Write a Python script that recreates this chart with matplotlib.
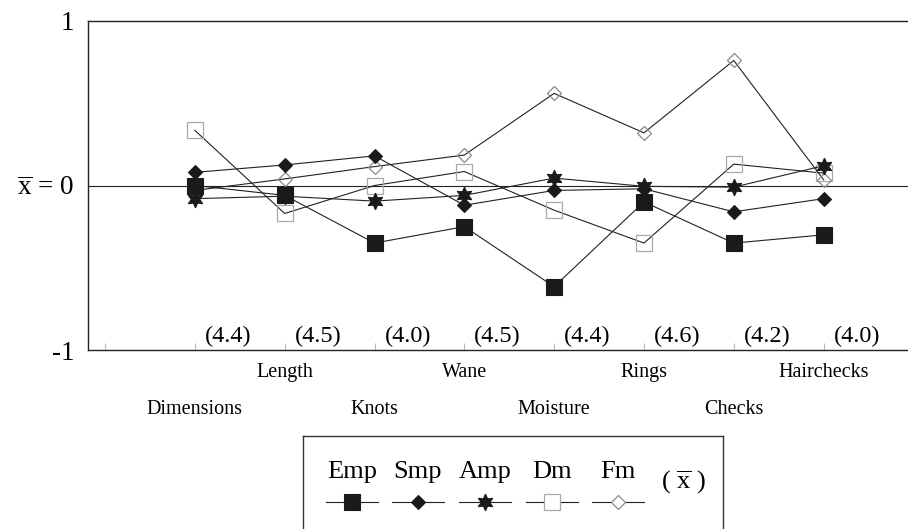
import numpy as np
import matplotlib
matplotlib.use("Agg")
import matplotlib.pyplot as plt

plt.rcParams['font.family'] = ['Liberation Serif', 'DejaVu Serif']
plt.rcParams['mathtext.fontset'] = 'custom'
plt.rcParams['mathtext.rm'] = 'Liberation Serif'
plt.rcParams['mathtext.it'] = 'Liberation Serif:italic'

categories = ['Dimensions', 'Length', 'Knots', 'Wane', 'Moisture', 'Rings', 'Checks', 'Hairchecks']
overall_means = [4.4, 4.5, 4.0, 4.5, 4.4, 4.6, 4.2, 4.0]

emp = [0.0, -0.06, -0.35, -0.25, -0.615, -0.10, -0.35, -0.30]
smp = [0.08, 0.125, 0.18, -0.12, -0.03, -0.02, -0.16, -0.08]
amp = [-0.08, -0.065, -0.095, -0.06, 0.045, -0.005, -0.01, 0.12]
dm = [0.335, -0.17, 0.0, 0.085, -0.15, -0.35, 0.13, 0.075]
fm = [-0.03, 0.04, 0.115, 0.185, 0.56, 0.32, 0.76, 0.035]

series_names = ['Emp', 'Smp', 'Amp', 'Dm', 'Fm']
series_vals = [emp, smp, amp, dm, fm]
styles = {
    'Emp': dict(marker='s', ms=11, mfc='#1a1a1a', mec='#1a1a1a', mew=0.8, z=5),
    'Smp': dict(marker='D', ms=7.5, mfc='#1a1a1a', mec='#1a1a1a', mew=0.8, z=6),
    'Amp': dict(marker=(6, 1, 0), ms=12, mfc='#1a1a1a', mec='#1a1a1a', mew=0.8, z=7),
    'Dm': dict(marker='s', ms=11, mfc='none', mec='#a8a8a8', mew=0.9, z=3),
    'Fm': dict(marker='D', ms=7.5, mfc='none', mec='#8a8a8a', mew=0.9, z=4),
}

W, H = 908, 529
fig = plt.figure(figsize=(W / 100, H / 100), dpi=100)
ax = fig.add_axes([88 / W, (H - 350) / H, (W - 88) / W, 329 / H])

x = np.arange(1, len(categories) + 1)
for name, vals in zip(series_names, series_vals):
    st = styles[name]
    ax.plot(x, vals, color='#222222', lw=0.8, marker=st['marker'], ms=st['ms'],
            mfc=st['mfc'], mec=st['mec'], mew=st['mew'], zorder=st['z'])

ax.axhline(0, color='#222222', lw=0.8, zorder=2)

ax.set_xlim(-0.19, 8.94)
ax.set_ylim(-1, 1)
ax.set_xticks(np.arange(0, len(categories) + 1))
ax.set_xticklabels([])
ax.tick_params(axis='x', direction='in', length=5, color='#bbbbbb', width=0.8)
ax.set_yticks([-1, 0, 1])
ax.set_yticklabels(['-1', r'$\overline{\mathrm{x}}$ = 0', '1'], fontsize=19.5)
ax.tick_params(axis='y', length=0, pad=10)
for s in ['left', 'top', 'bottom']:
    ax.spines[s].set_color('#222222')
    ax.spines[s].set_linewidth(1.0)
ax.spines['right'].set_visible(False)

for xi, m in zip(x, overall_means):
    ax.text(xi + 0.37, -0.915, '(%.1f)' % m, ha='center', va='center', fontsize=17.5)

for i, (xi, cat) in enumerate(zip(x, categories)):
    yy = -1.36 if i % 2 == 0 else -1.135
    ax.text(xi, yy, cat, ha='center', va='center', fontsize=14.5, clip_on=False)

# legend box (manual layout: labels above line samples)
top = 436
hgt = 160
lax = fig.add_axes([303 / W, (H - top - hgt) / H, (723 - 303) / W, hgt / H])
lax.set_xlim(303, 723)
lax.set_ylim(top + hgt, top)
lax.set_xticks([])
lax.set_yticks([])
for s in lax.spines.values():
    s.set_color('#333333')
    s.set_linewidth(1.0)
centers = [352, 418, 485, 552, 618]
for cx, name in zip(centers, series_names):
    st = styles[name]
    lax.text(cx, 472, name, ha='center', va='center', fontsize=19)
    lax.plot([cx - 26, cx + 26], [502, 502], color='#222222', lw=0.8, zorder=2)
    lax.plot([cx], [502], marker=st['marker'], ms=st['ms'], mfc=st['mfc'] if st['mfc'] != 'none' else 'white',
             mec=st['mec'], mew=st['mew'], zorder=3, ls='none')
lax.text(683, 482, r'( $\overline{\mathrm{x}}$ )', ha='center', va='center', fontsize=19)

fig.savefig('out.png', dpi=100)
